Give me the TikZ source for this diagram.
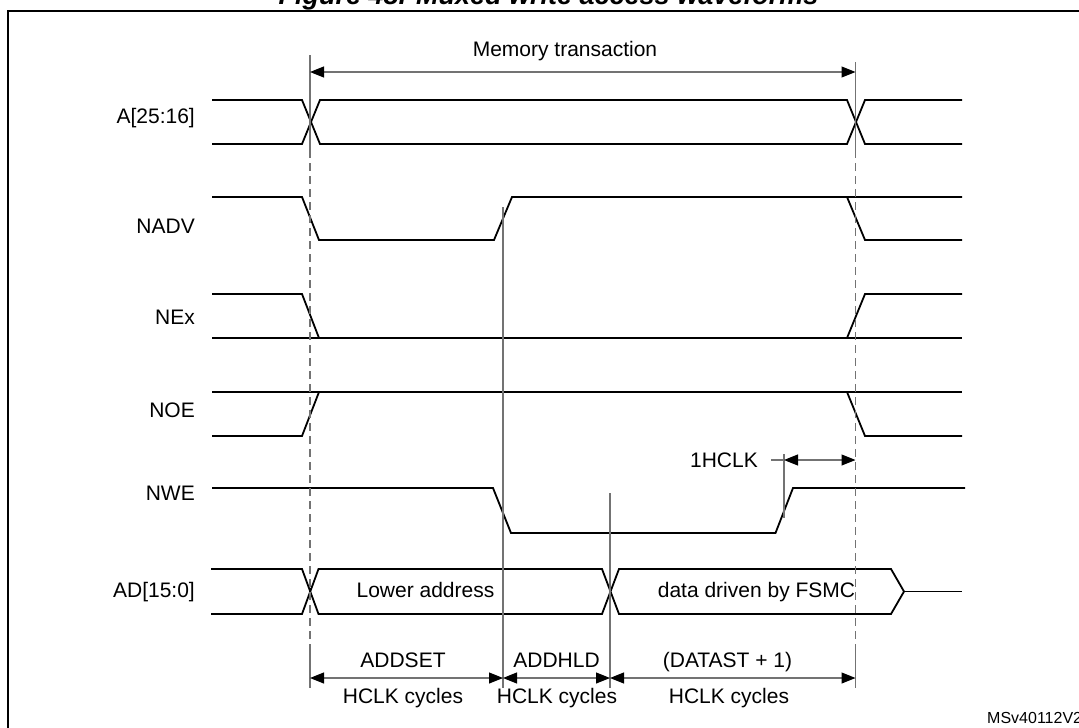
\documentclass[tikz,border=0pt]{standalone}
\usepackage{fontspec}
\setmainfont{Liberation Sans}
\usetikzlibrary{arrows.meta}
\begin{document}
\begin{tikzpicture}[x=1pt,y=-1pt,
  sig/.style={line width=1.8pt, line join=miter},
  guide/.style={line width=1.1pt, draw=black!55},
  dguide/.style={guide, dash pattern=on 8pt off 5pt},
  tip/.tip={Triangle[length=14pt,width=11pt,color=black]},
  dim/.style={line width=1.1pt, draw=black!55, tip-tip},
  lbl/.style={font=\fontsize{21}{25}\selectfont, inner sep=0pt, anchor=base},
  sname/.style={lbl, anchor=base east},
  ]
\useasboundingbox (0,0) rectangle (1079,728);
\clip (0,0) rectangle (1079,728);

% title and frame
\node[font=\fontsize{27}{30}\selectfont\bfseries\itshape, inner sep=0pt, anchor=base] (title) at (548.5,5) {Figure 48. Muxed write access waveforms};
\draw[line width=2pt] (7.6,740) -- (7.6,11) -- (1090,11);

% signal names
\node[sname] (nA)    at (195,123) {A[25:16]};
\node[sname] (nNADV) at (195,233) {NADV};
\node[sname] (nNEx)  at (195,324) {NEx};
\node[sname] (nNOE)  at (195,417) {NOE};
\node[sname] (nNWE)  at (195,500) {NWE};
\node[sname] (nAD)   at (195,597) {AD[15:0]};

% A[25:16]
\draw[sig] (212,100) -- (302,100) -- (320,144) -- (847,144) -- (865,100) -- (962,100);
\draw[sig] (212,144) -- (302,144) -- (320,100) -- (847,100) -- (865,144) -- (962,144);

% NADV
\draw[sig] (212,197) -- (302,197) -- (319,240) -- (494,240) -- (512,197) -- (962,197);
\draw[sig] (847,197) -- (865,240) -- (962,240);

% NEx
\draw[sig] (212,294) -- (302,294) -- (319,338);
\draw[sig] (212,338) -- (962,338);
\draw[sig] (847,338) -- (865,294) -- (962,294);

% NOE
\draw[sig] (212,436) -- (302,436) -- (319,392);
\draw[sig] (212,392) -- (962,392);
\draw[sig] (847,392) -- (865,436) -- (962,436);

% NWE
\draw[sig] (212,488) -- (493,488) -- (511,533) -- (775.5,533) -- (793,488) -- (965,488);

% AD[15:0]
\draw[sig] (211,569) -- (302,569) -- (318.5,614) -- (602,614) -- (619,569) -- (891,569) -- (904,591.5) -- (891,614) -- (619,614) -- (602,569) -- (318.5,569) -- (302,614) -- (211,614);
\draw[sig] (904,591.5) -- (962,591.5);
\node[lbl] (lower) at (425.5,597) {Lower address};
\node[lbl] (data)  at (756.5,597) {data driven by FSMC};

% guide lines
\draw[guide]  (310,55) -- (310,150);
\draw[dguide] (310,150) -- (310,650);
\draw[guide]  (310,650) -- (310,688);
\draw[guide]  (855.5,62) -- (855.5,150);
\draw[dguide] (855.5,150) -- (855.5,650);
\draw[guide]  (855.5,650) -- (855.5,688);
\draw[guide]  (503,207) -- (503,688);
\draw[guide]  (610,493) -- (610,688);
\draw[guide]  (784,454) -- (784,518);

% memory transaction
\coordinate (mL) at (310,72);
\coordinate (mR) at (855.5,72);
\draw[dim] (mL) -- (mR);
\node[lbl] (mem) at (565,56) {Memory transaction};

% 1HCLK
\coordinate (hL) at (784,460);
\coordinate (hR) at (855.5,460);
\coordinate (hT) at (771,460);
\node[lbl, anchor=base east] (hclk) at (758,467) {1HCLK};
\draw[guide] (hT) -- (hL);
\draw[dim] (hL) -- (hR);

% phase arrows
\coordinate (p0) at (310,678);
\coordinate (p1) at (503,678);
\coordinate (p2) at (610,678);
\coordinate (p3) at (855.5,678);
\draw[dim] (p0) -- (p1);
\draw[dim] (p1) -- (p2);
\draw[dim] (p2) -- (p3);
\node[lbl] (addset)  at (403,667) {ADDSET};
\node[lbl] (hc1)     at (403,703) {HCLK cycles};
\node[lbl] (addhld)  at (556.5,667) {ADDHLD};
\node[lbl] (hc2)     at (557,703) {HCLK cycles};
\node[lbl] (datast)  at (727.5,667) {(DATAST + 1)};
\node[lbl] (hc3)     at (729,703) {HCLK cycles};

% reference code
\node[font=\fontsize{16}{19}\selectfont, inner sep=0pt, anchor=base west] (code) at (987,723) {MSv40112V2};
\end{tikzpicture}
\end{document}
